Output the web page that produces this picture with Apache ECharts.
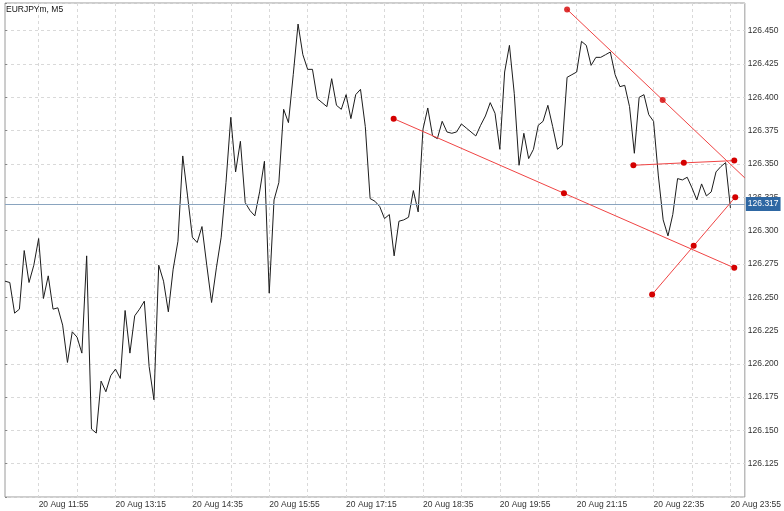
<!DOCTYPE html>
<html>
<head>
<meta charset="utf-8">
<script src="https://cdn.jsdelivr.net/npm/echarts@6/dist/echarts.min.js"></script>
<style>
html,body{margin:0;padding:0;background:#fff;}
#chart{width:784px;height:511px;}
</style>
</head>
<body>
<div id="chart"></div>
<script>
// ---- data ----
var symbolTitle = 'EURJPYm, M5';
var startHour = 11, startMinute = 20; // first bar: 20 Aug 11:20, 5-minute bars
var barCount = 152;
var extraBars = 3; // chart shift (empty space on right)

var closes = [
  126.262,126.261,126.238,126.241,126.285,126.261,126.274,126.294,126.249,126.266,
  126.241,126.242,126.229,126.201,126.224,126.220,126.208,126.281,126.151,126.148,
  126.187,126.179,126.191,126.196,126.189,126.240,126.208,126.236,126.241,126.247,
  126.198,126.173,126.274,126.262,126.239,126.271,126.292,126.356,126.326,126.295,
  126.291,126.303,126.274,126.246,126.272,126.295,126.336,126.385,126.344,126.367,
  126.321,126.315,126.311,126.329,126.352,126.253,126.323,126.336,126.391,126.381,
  126.417,126.455,126.432,126.421,126.421,126.399,126.396,126.393,126.414,126.394,
  126.391,126.402,126.384,126.402,126.406,126.378,126.324,126.322,126.318,126.309,
  126.312,126.281,126.307,126.308,126.310,126.330,126.314,126.376,126.392,126.371,
  126.369,126.382,126.374,126.373,126.374,126.380,126.377,126.374,126.371,126.379,
  126.386,126.396,126.388,126.361,126.419,126.439,126.403,126.349,126.373,126.354,
  126.361,126.379,126.382,126.394,126.378,126.361,126.364,126.415,126.417,126.419,
  126.442,126.439,126.424,126.430,126.430,126.432,126.434,126.417,126.408,126.409,
  126.393,126.358,126.400,126.402,126.387,126.382,126.341,126.308,126.296,126.312,
  126.339,126.338,126.340,126.332,126.323,126.335,126.326,126.329,126.344,126.348,
  126.351,126.317
];

// price axis
var priceMin = 126.100, priceMax = 126.4708, priceStep = 0.025;

// trend lines: [barIndex, price]
var trendUpperRay = [[117.0, 126.466], [136.9, 126.398], [154, 126.3395]];
var trendUpperDots = [[117.0, 126.466], [136.9, 126.398]];
var trendLower = [[80.9, 126.384], [116.35, 126.328], [151.8, 126.272]];
var trendFlat = [[130.8, 126.349], [141.3, 126.3508], [151.8, 126.3525]];
var trendRise = [[134.7, 126.252], [143.35, 126.2885], [152.0, 126.325]];

// ---- build ----
var months = 'Aug';
var categories = [];
for (var i = 0; i < barCount + extraBars; i++) {
  var m = startHour * 60 + startMinute + i * 5;
  var hh = Math.floor(m / 60) % 24, mm = m % 60;
  categories.push('20 ' + months + ' ' + (hh < 10 ? '0' : '') + hh + ':' + (mm < 10 ? '0' : '') + mm);
}
var firstLabelIdx = 7; // 11:55
var lastPrice = closes[closes.length - 1];

var red = '#f04444', dotRed = '#d40000';
function trendSeries(data, withDots) {
  return {
    type: 'line', xAxisIndex: 1, yAxisIndex: 0, data: data,
    showSymbol: !!withDots, symbol: 'circle', symbolSize: 6,
    itemStyle: {color: dotRed},
    lineStyle: {color: red, width: 1},
    silent: true, animation: false, z: 5
  };
}

var chart = echarts.init(document.getElementById('chart'), null, {renderer: 'canvas'});
var font = '"Liberation Sans", Arial, sans-serif';
chart.setOption({
  animation: false,
  backgroundColor: '#fff',
  title: {
    text: symbolTitle, left: 6, top: 5, padding: 0,
    textStyle: {fontSize: 8.5, fontWeight: 'normal', color: '#111', fontFamily: font}
  },
  grid: {left: 5, right: 39, top: 3, bottom: 14, show: true, borderColor: '#9a9a9a', borderWidth: 1, backgroundColor: '#fff'},
  xAxis: [{
    type: 'category', data: categories, boundaryGap: false,
    axisLine: {show: false}, axisTick: {show: false},
    axisLabel: {
      interval: function (idx) { return idx >= firstLabelIdx && (idx - firstLabelIdx) % 16 === 0; },
      align: 'left', margin: 3, fontSize: 8.5, color: '#333', fontFamily: font,
      hideOverlap: false
    },
    splitLine: {
      show: true,
      interval: function (idx) { return idx > 0 && (idx - firstLabelIdx) % 8 === 0; },
      lineStyle: {color: '#d9d9d9', type: [3, 3], width: 1}
    }
  }, {
    type: 'value', min: 0, max: barCount + extraBars - 1, show: false
  }],
  yAxis: [{
    type: 'value', position: 'right', min: priceMin, max: priceMax, interval: priceStep,
    axisLine: {show: false},
    axisTick: {show: true, length: 2, lineStyle: {color: '#888'}},
    axisLabel: {
      margin: 3, fontSize: 8.5, color: '#333', fontFamily: font,
      formatter: function (v) {
        if (v < priceMin + 0.001 || v > 126.46) return '';
        return v.toFixed(3);
      }
    },
    splitLine: {show: true, lineStyle: {color: '#d9d9d9', type: [3, 3], width: 1}}
  }],
  series: [{
    type: 'line', data: closes, showSymbol: false,
    lineStyle: {color: '#1c1c1c', width: 1}, z: 3,
    markLine: {
      silent: true, symbol: 'none', animation: false,
      lineStyle: {color: '#8aa4bf', width: 1, type: 'solid'},
      label: {
        position: 'end', distance: 1, formatter: lastPrice.toFixed(3),
        backgroundColor: '#2e67a3', color: '#fff', fontSize: 8.5, fontFamily: font,
        padding: [3, 2, 2, 2]
      },
      data: [{yAxis: lastPrice}]
    }
  },
  trendSeries(trendUpperRay, false),
  {type: 'scatter', xAxisIndex: 1, data: trendUpperDots, symbol: 'circle', symbolSize: 6, itemStyle: {color: dotRed}, z: 6, silent: true},
  trendSeries(trendLower, true),
  trendSeries(trendFlat, true),
  trendSeries(trendRise, true)
  ]
});
</script>
</body>
</html>
